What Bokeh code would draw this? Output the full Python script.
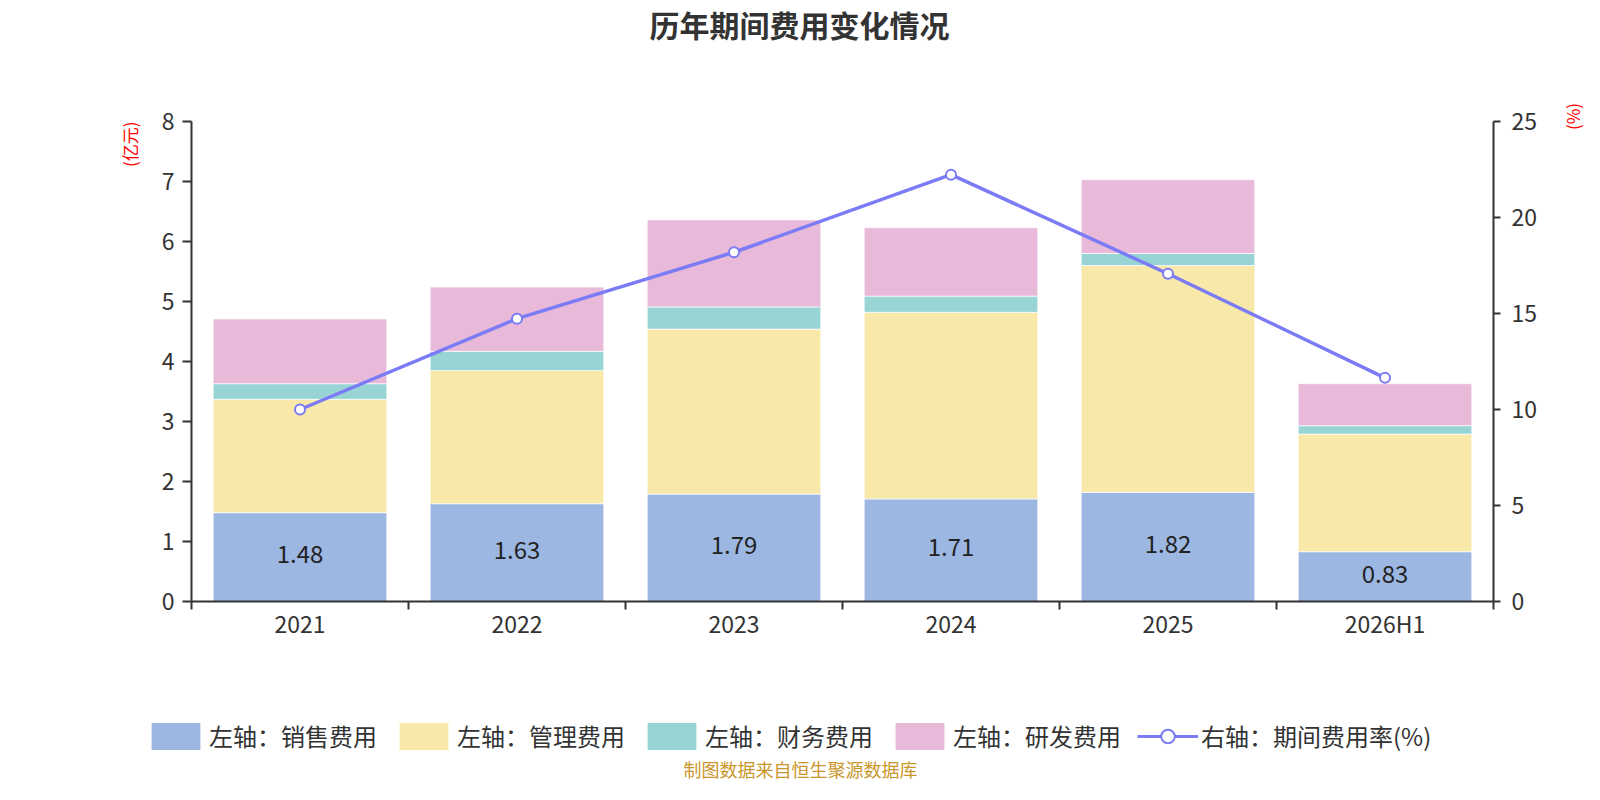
import numpy as np
from bokeh.plotting import figure
from bokeh.layouts import column, row
from bokeh.models import (ColumnDataSource, Range1d, LinearAxis, FixedTicker, Legend,
                          LegendItem, Label, LabelSet, Title)
from bokeh.core.properties import value
from bokeh.embed import file_html
from bokeh.resources import INLINE

categories = ["2021", "2022", "2023", "2024", "2025", "2026H1"]
sales = [1.48, 1.63, 1.79, 1.71, 1.82, 0.83]
admin = [1.89, 2.22, 2.75, 3.11, 3.78, 1.96]
finance = [0.26, 0.32, 0.37, 0.27, 0.20, 0.14]
rnd = [1.08, 1.07, 1.45, 1.14, 1.23, 0.70]
rate = [10.0, 14.73, 18.19, 22.23, 17.07, 11.65]

left_ticks = [0, 1, 2, 3, 4, 5, 6, 7, 8]
right_ticks = [0, 5, 10, 15, 20, 25]

series_names = ["左轴：销售费用", "左轴：管理费用", "左轴：财务费用", "左轴：研发费用"]
line_name = "右轴：期间费用率(%)"
title_text = "历年期间费用变化情况"
source_text = "制图数据来自恒生聚源数据库"
left_unit = "(亿元)"
right_unit = "(%)"

colors = ["#9cb8e2", "#f8e8a9", "#98d4d4", "#e8b9d8"]
line_color = "#7b7bf5"
FONT = "Noto Sans CJK SC"


def setp(obj, **kw):
    for k, v in kw.items():
        try:
            setattr(obj, k, v)
        except Exception:
            pass


W = 1584
H0, H1, H2 = 50, 610, 124
WP = 1540          # main chart width; the rest holds the right unit label
WS = W - WP

x = np.arange(len(categories)) + 0.5
stack = np.array([sales, admin, finance, rnd])
tops = np.cumsum(stack, axis=0)
bottoms = tops - stack

# ---------------- title strip ----------------
t = figure(width=W, height=H0, output_backend="svg", toolbar_location=None,
           x_range=Range1d(0, W), y_range=Range1d(0, H0), min_border=0,
           outline_line_color=None, x_axis_type=None, y_axis_type=None)
t.add_layout(Label(x=799, y=H0 - 23.5, text=title_text, text_align="center",
                   text_baseline="middle", text_font=FONT, text_font_size="30px",
                   text_font_style="bold", text_color="#333333"))

# ---------------- main chart ----------------
p = figure(width=WP, height=H1, output_backend="svg", toolbar_location=None,
           x_range=Range1d(0, len(categories)), y_range=Range1d(0, 8),
           min_border_left=191, min_border_right=WP - 1493, min_border_top=121 - H0,
           min_border_bottom=59, outline_line_color=None, x_axis_type=None,
           y_axis_type=None)
p.extra_y_ranges = {"pct": Range1d(0, 25)}

sources = []
for i in range(4):
    src = ColumnDataSource(dict(x=x, top=tops[i], bottom=bottoms[i]))
    sources.append(src)
    p.vbar(x="x", top="top", bottom="bottom", width=0.8, source=src,
           fill_color=colors[i], line_color="white", line_width=1, line_alpha=0.7)

lsrc = ColumnDataSource(dict(x=x, y=rate))
p.line("x", "y", source=lsrc, y_range_name="pct", line_color=line_color, line_width=3.5)
p.scatter("x", "y", source=lsrc, y_range_name="pct", size=10, fill_color="white",
          line_color=line_color, line_width=2)

tsrc = ColumnDataSource(dict(x=x, y=np.array(sales) / 2, t=["%.2f" % v for v in sales]))
p.add_layout(LabelSet(x="x", y="y", text="t", source=tsrc, text_align="center",
                      text_baseline="middle", text_font=value(FONT), y_offset=3,
                      text_font_size="24px", text_color="#222222"))


def style_axis(ax, tick_out, standoff):
    ax.axis_line_color = "#333333"
    ax.axis_line_width = 2
    ax.major_label_standoff = standoff
    ax.major_label_text_font = FONT
    ax.major_label_text_font_size = "23px"
    ax.major_label_text_color = "#333333"
    ax.major_tick_in = 0
    ax.major_tick_out = tick_out
    ax.major_tick_line_color = "#333333"
    ax.major_tick_line_width = 2


xaxis = LinearAxis(ticker=FixedTicker(ticks=list(x), minor_ticks=list(range(len(categories) + 1))),
                   major_label_overrides={float(v): c for v, c in zip(x, categories)})
style_axis(xaxis, 0, -4)
xaxis.major_tick_line_color = None
xaxis.minor_tick_in = 0
xaxis.minor_tick_out = 8
xaxis.minor_tick_line_color = "#333333"
xaxis.minor_tick_line_width = 2
p.add_layout(xaxis, "below")

yaxis = LinearAxis(ticker=FixedTicker(ticks=left_ticks))
style_axis(yaxis, 9, 8)
yaxis.minor_tick_line_color = None
p.add_layout(yaxis, "left")

raxis = LinearAxis(y_range_name="pct", ticker=FixedTicker(ticks=right_ticks))
style_axis(raxis, 7, 11)
raxis.minor_tick_line_color = None
p.add_layout(raxis, "right")

p.xgrid.visible = False
p.ygrid.ticker = FixedTicker(ticks=left_ticks)
p.ygrid.grid_line_color = "#cccccc"
p.ygrid.grid_line_width = 1.5

lt = Title(text=left_unit)
setp(lt, align="right", offset=0, standoff=34, text_font=FONT, text_font_size="17px",
     text_font_style="normal", text_color="#ff0000")
p.add_layout(lt, "left")

# ---------------- right unit strip ----------------
s = figure(width=WS, height=H1, output_backend="svg", toolbar_location=None,
           x_range=Range1d(0, WS), y_range=Range1d(0, H1), min_border=0,
           outline_line_color=None, x_axis_type=None, y_axis_type=None)
s.add_layout(Label(x=1572 - WP, y=H1 - (116 - H0), text=right_unit, angle=np.pi / 2,
                   text_align="center", text_baseline="middle", text_font=FONT,
                   text_font_size="17px", text_color="#ff0000"))

# ---------------- legend / source strip ----------------
q = figure(width=W, height=H2, output_backend="svg", toolbar_location=None,
           x_range=Range1d(0, W), y_range=Range1d(0, H2), min_border=0,
           outline_line_color=None, x_axis_type=None, y_axis_type=None)
proxies = []
for i in range(4):
    proxies.append(q.vbar(x="x", top="top", bottom="bottom", width=0.8, source=sources[i],
                          fill_color=colors[i], line_color=None, visible=False))
pl = q.line("x", "y", source=lsrc, line_color=line_color, line_width=3, visible=False)
ps = q.scatter("x", "y", source=lsrc, size=22, fill_color="white", line_color=line_color,
               line_width=2, visible=False)

items = [LegendItem(label=n, renderers=[r]) for n, r in zip(series_names, proxies)]
items.append(LegendItem(label=line_name, renderers=[pl, ps]))
legend = Legend(items=items, orientation="horizontal", location=(145, 31),
                label_text_font=FONT, label_text_font_size="24px", label_text_color="#333333",
                glyph_width=61, glyph_height=34, spacing=16, label_standoff=3,
                label_height=27, border_line_color=None, background_fill_alpha=0,
                inactive_fill_alpha=0, padding=0, margin=0)
q.add_layout(legend, "center")
q.add_layout(Label(x=800, y=16, text=source_text, text_align="center", text_baseline="middle",
                   text_font=FONT, text_font_size="18px", text_color="#c9962b"))

for fig in (t, p, s, q):
    setp(fig, frame_align=False)

layout = column(t, row(p, s, spacing=0), q, spacing=0)
open("out.html", "w").write(file_html(layout, INLINE))
